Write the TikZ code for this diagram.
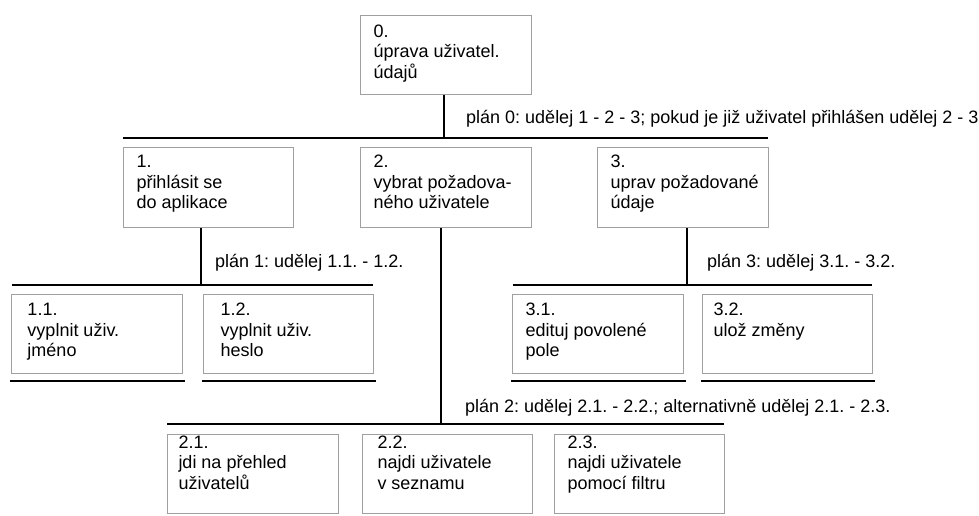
\documentclass[tikz,border=0pt]{standalone}
\usepackage{fontspec}
\setmainfont{Liberation Sans}
\usetikzlibrary{calc}
\frenchspacing
\definecolor{boxgray}{RGB}{160,160,160}
% task box: width, height, left padding, first baseline offset, text
\newcommand{\taskbox}[5]{\parbox[c][#2pt][t]{#1pt}{\vspace*{\dimexpr#4pt-16pt\relax}\leftskip=#3pt\parindent=0pt\rule{0pt}{16pt}#5}}
\tikzset{
  task/.style={draw=boxgray, line width=1pt, inner sep=0pt, anchor=north west,
               font=\fontsize{18pt}{20.5pt}\selectfont},
  conn/.style={draw=black, line width=1.8pt},
  plan/.style={anchor=base west, inner sep=0pt, font=\fontsize{18pt}{20.5pt}\selectfont}
}
\begin{document}
\begin{tikzpicture}[x=1pt, y=-1pt]
\useasboundingbox (0,0) rectangle (979,516);

% tasks
\node[task] (n0)  at (360,15)  {\taskbox{171}{79}{13}{22}{0.\\úprava uživatel.\\údajů}};
\node[task] (n1)  at (123,147) {\taskbox{170}{80}{13}{20}{1.\\přihlásit se\\do aplikace}};
\node[task] (n2)  at (360,147) {\taskbox{171}{80}{13}{20}{2.\\vybrat požadova-\\ného uživatele}};
\node[task] (n3)  at (597,147) {\taskbox{171}{80}{13}{20}{3.\\uprav požadované\\údaje}};
\node[task] (n11) at (11,294)  {\taskbox{171}{79}{16}{21}{1.1.\\vyplnit uživ.\\jméno}};
\node[task] (n12) at (203,294) {\taskbox{170}{79}{17}{21}{1.2.\\vyplnit uživ.\\heslo}};
\node[task] (n31) at (512,294) {\taskbox{171}{79}{13}{21}{3.1.\\edituj povolené\\pole}};
\node[task] (n32) at (702,294) {\taskbox{170}{79}{11}{21}{3.2.\\ulož změny}};
\node[task] (n21) at (167,434) {\taskbox{171}{79}{11}{13.5}{2.1.\\jdi na přehled\\uživatelů}};
\node[task] (n22) at (362,434) {\taskbox{170}{79}{15}{13.5}{2.2.\\najdi uživatele\\v seznamu}};
\node[task] (n23) at (554,434) {\taskbox{170}{79}{13}{13.5}{2.3.\\najdi uživatele\\pomocí filtru}};

% plans
\node[plan] (p0) at (466,124) {plán 0: udělej 1 - 2 - 3; pokud je již uživatel přihlášen udělej 2 - 3};
\node[plan] (p1) at (215,267) {plán 1: udělej 1.1. - 1.2.};
\node[plan] (p3) at (707,267) {plán 3: udělej 3.1. - 3.2.};
\node[plan] (p2) at (465,412) {plán 2: udělej 2.1. - 2.2.; alternativně udělej 2.1. - 2.3.};

% junctions and bars
\coordinate (j0) at (444,138);
\coordinate (j1) at (201,285);
\coordinate (j2) at (441,424);
\coordinate (j3) at (687,285);
\coordinate (b0a) at (123,138); \coordinate (b0b) at (768,138);
\coordinate (b1a) at (12,285);  \coordinate (b1b) at (373,285);
\coordinate (b2a) at (167,424); \coordinate (b2b) at (724,424);
\coordinate (b3a) at (513,285); \coordinate (b3b) at (872,285);

\draw[conn] (n0.south -| j0) -- (j0);
\draw[conn] (b0a) -- (b0b);
\draw[conn] (n1.south -| j1) -- (j1);
\draw[conn] (b1a) -- (b1b);
\draw[conn] (n2.south -| j2) -- (j2);
\draw[conn] (b2a) -- (b2b);
\draw[conn] (n3.south -| j3) -- (j3);
\draw[conn] (b3a) -- (b3b);

% end-of-decomposition underlines
\foreach \t in {n11,n12,n31,n32}{
  \draw[conn] ($(\t.south west)+(-1,7)$) -- ($(\t.south east)+(2,7)$);
}
\end{tikzpicture}
\end{document}
